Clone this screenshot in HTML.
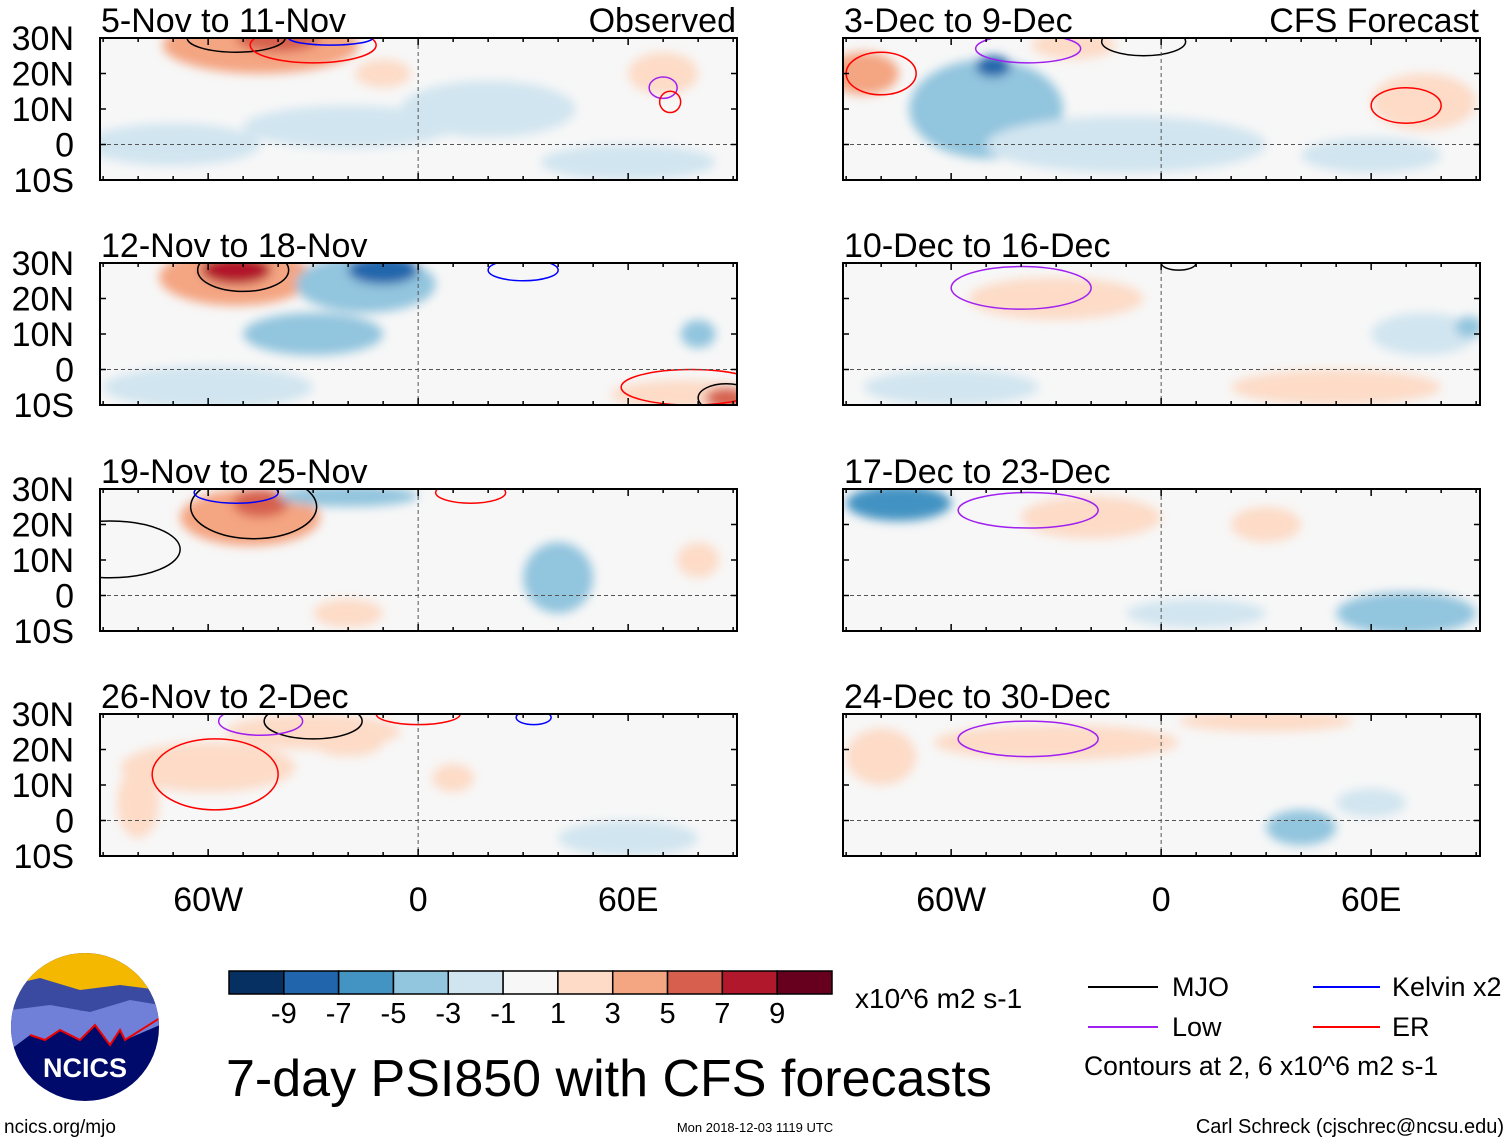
<!DOCTYPE html>
<html><head><meta charset="utf-8"><style>
html,body{margin:0;padding:0;background:#fff;width:1510px;height:1142px;overflow:hidden}
svg text{font-family:"Liberation Sans",sans-serif;fill:#000}
</style></head><body>
<svg id="fig" width="1510" height="1142" viewBox="0 0 1510 1142">
<defs><filter id="blur" x="-30%" y="-30%" width="160%" height="160%"><feGaussianBlur stdDeviation="5"/></filter>
<clipPath id="circ"><circle cx="85" cy="1027" r="74"/></clipPath></defs>
<g id="panels"></g>
<g id="cbar"></g>
<g clip-path="url(#circ)">
<rect x="10" y="952" width="150" height="150" fill="#000a6b"/>
<rect x="10" y="952" width="150" height="45" fill="#f5b800"/>
<path d="M10,985 L40,978 L80,990 L120,985 L160,990 L160,1015 L120,1020 L80,1010 L40,1020 L10,1015Z" fill="#3a4aa0"/>
<path d="M10,1010 L50,1005 L90,1012 L130,1000 L160,1005 L160,1025 L125,1040 L120,1030 L110,1045 L95,1025 L80,1040 L60,1030 L45,1040 L30,1035 L10,1050Z" fill="#7080d8"/>
<path d="M30,1035 L45,1040 L60,1030 L80,1040 L95,1025 L110,1045 L120,1030 L125,1040 L160,1018" fill="none" stroke="#e00" stroke-width="2"/>
<text x="85" y="1077" text-anchor="middle" font-size="27" font-weight="bold" style="fill:#fff">NCICS</text>
</g>
<text x="4" y="1133" font-size="19">ncics.org/mjo</text>
<text x="226" y="1096" font-size="52">7-day PSI850 with CFS forecasts</text>
<text x="855" y="1008" font-size="28">x10^6 m2 s-1</text>
<text x="755" y="1132" font-size="13" text-anchor="middle">Mon 2018-12-03 1119 UTC</text>
<text x="1504" y="1133" font-size="20" text-anchor="end">Carl Schreck (cjschrec@ncsu.edu)</text>
<g>
<line x1="1088" y1="987" x2="1158" y2="987" stroke="#000" stroke-width="2"/><text x="1172" y="996" font-size="27">MJO</text>
<line x1="1088" y1="1027" x2="1158" y2="1027" stroke="#a020f0" stroke-width="2"/><text x="1172" y="1036" font-size="27">Low</text>
<line x1="1313" y1="987" x2="1380" y2="987" stroke="#0000ff" stroke-width="2"/><text x="1392" y="996" font-size="27">Kelvin x2</text>
<line x1="1313" y1="1027" x2="1380" y2="1027" stroke="#ff0000" stroke-width="2"/><text x="1392" y="1036" font-size="27">ER</text>
<text x="1084" y="1075" font-size="26.5">Contours at 2, 6 x10^6 m2 s-1</text>
</g>
</svg>
<script>
const levels=[-9,-7,-5,-3,-1,1,3,5,7,9];
const palette=["#053061","#2166ac","#4393c3","#92c5de","#d1e5f0","#f7f7f7","#fddbc7","#f4a582","#d6604d","#b2182b","#67001f"];
const panelTitles=["5-Nov to 11-Nov","12-Nov to 18-Nov","19-Nov to 25-Nov","26-Nov to 2-Dec","3-Dec to 9-Dec","10-Dec to 16-Dec","17-Dec to 23-Dec","24-Dec to 30-Dec"];
const latTicks=[30,20,10,0,-10];
const latLabels=["30N","20N","10N","0","10S"];
const lonTicks=[-60,0,60];
const lonLabels=["60W","0","60E"];
// blobs: [lon, lat, rxDeg, ryDeg, value]
const blobs=[
[[-45,28,28,8,4],[-40,30,12,4,6],[-70,0,25,6,-2],[-20,5,30,6,-2],[60,-5,25,5,-2],[70,20,10,6,3],[-10,20,8,4,2],[20,10,25,8,-1.5]],
[[-52,26,22,8,5],[-52,28,10,4,8],[-15,24,20,8,-4],[-10,28,10,4,-7],[-60,-5,30,6,-2],[-30,10,20,6,-3],[75,-7,20,4,3],[88,-8,6,3,6],[80,10,5,4,-3]],
[[-48,22,20,8,4],[-45,26,8,4,7],[-20,28,20,3,-3],[40,5,10,10,-3],[-20,-5,10,4,2],[80,10,6,5,2]],
[[-60,15,25,7,3],[-30,25,25,5,3],[-80,5,6,10,3],[60,-5,20,5,-2],[-20,22,10,4,2],[10,12,6,4,2]],
[[-50,10,22,14,-4],[-48,22,5,3,-7],[-10,0,40,8,-2],[75,12,15,8,2],[-25,28,12,4,3],[-85,20,10,6,4],[60,-3,20,5,-2]],
[[-30,20,25,6,1.5],[50,-5,30,5,2],[-60,-5,25,5,-2],[75,10,15,6,-2],[88,12,4,3,-4]],
[[-75,26,15,5,-5],[-20,22,20,6,2],[70,-5,20,6,-3],[10,-5,20,4,-2],[30,20,10,5,2]],
[[-30,22,35,5,2],[30,28,25,3,2],[40,-2,10,5,-3],[60,5,10,4,-2],[-80,18,10,8,2]]];
// contours: [lon, lat, rxDeg, ryDeg, color]
const contours=[
[[-52,30,14,4,"#000"],[-30,28,18,5,"#f00"],[-25,30,12,2,"#00f"],[70,16,4,3,"#a020f0"],[72,12,3,3,"#f00"]],
[[-50,28,13,6,"#000"],[30,28,10,3,"#00f"],[78,-5,20,5,"#f00"],[88,-8,8,4,"#000"]],
[[-88,13,20,8,"#000"],[-47,25,18,9,"#000"],[-52,29,12,3,"#00f"],[15,29,10,3,"#f00"]],
[[-58,13,18,10,"#f00"],[-30,28,14,5,"#000"],[-45,28,12,4,"#a020f0"],[0,30,12,3,"#f00"],[33,29,5,2,"#00f"]],
[[-80,20,10,6,"#f00"],[-38,27,15,4,"#a020f0"],[-5,29,12,4,"#000"],[70,11,10,5,"#f00"]],
[[-40,23,20,6,"#a020f0"],[5,30,5,2,"#000"]],
[[-38,24,20,5,"#a020f0"]],
[[-38,23,20,5,"#a020f0"]]];
const NS="http://www.w3.org/2000/svg";
function colorFor(v){let i=0;while(i<levels.length&&v>levels[i])i++;return palette[i];}
const pans=document.getElementById('panels');
const origins=[[100,38],[100,263],[100,489],[100,714],[843,38],[843,263],[843,489],[843,714]];
const W=637,H=142;
function mk(tag,attrs,parent){const e=document.createElementNS(NS,tag);for(const k in attrs)e.setAttribute(k,attrs[k]);parent.appendChild(e);return e;}
origins.forEach((o,p)=>{
 const [x0,y0]=o;
 const xS=lon=>x0+(lon+90.9)*3.5;
 const yS=lat=>y0+(30-lat)*3.55;
 const g=mk('g',{},pans);
 
 
 const cid='cp'+p;
 const cp=mk('clipPath',{id:cid},g);mk('rect',{x:x0,y:y0,width:W,height:H},cp);
 mk('rect',{x:x0,y:y0,width:W,height:H,fill:'#f7f7f7'},g);
 const bg=mk('g',{'clip-path':'url(#'+cid+')'},g);
 const fg=mk('g',{filter:'url(#blur)'},bg);
 blobs[p].forEach(b=>{
  const e=mk('ellipse',{cx:xS(b[0]),cy:yS(b[1]),rx:b[2]*3.5,ry:b[3]*3.55,fill:colorFor(b[4])},fg);
  
  
 });
 contours[p].forEach(c=>{
  const e=mk('ellipse',{cx:xS(c[0]),cy:yS(c[1]),rx:c[2]*3.5,ry:c[3]*3.55,fill:'none',stroke:c[4],'stroke-width':1.5},bg);
  
  
 });
 mk('line',{x1:x0,x2:x0+W,y1:yS(0),y2:yS(0),stroke:'#555','stroke-dasharray':'4,3','stroke-width':1},g);
 mk('line',{x1:xS(0),x2:xS(0),y1:y0,y2:y0+H,stroke:'#555','stroke-dasharray':'4,3','stroke-width':1},g);
 mk('rect',{x:x0,y:y0,width:W,height:H,fill:'none',stroke:'#000','stroke-width':2},g);
 for(let lon=-90;lon<=90;lon+=10){const x=xS(lon),l=(lon%60===0)?7:4;
  mk('line',{x1:x,x2:x,y1:y0,y2:y0+l,stroke:'#000','stroke-width':1.5},g);
  mk('line',{x1:x,x2:x,y1:y0+H,y2:y0+H-l,stroke:'#000','stroke-width':1.5},g);}
 latTicks.forEach(lat=>{const y=yS(lat);
  mk('line',{x1:x0,x2:x0+6,y1:y,y2:y,stroke:'#000','stroke-width':1.5},g);
  mk('line',{x1:x0+W,x2:x0+W-6,y1:y,y2:y,stroke:'#000','stroke-width':1.5},g);});
 const t=mk('text',{x:x0+1,y:y0-6,'font-size':34},g);t.textContent=panelTitles[p];
 
 
 if(p===0||p===4){const r=mk('text',{x:x0+W-1,y:y0-6,'font-size':34,'text-anchor':'end'},g);r.textContent=p===0?'Observed':'CFS Forecast';
  
  }
 if(p<4){latTicks.forEach((lat,i)=>{const l=mk('text',{x:74,y:yS(lat)+12,'font-size':34,'text-anchor':'end'},g);l.textContent=latLabels[i];
  
  });}
 if(p===3||p===7){lonTicks.forEach((lon,i)=>{const l=mk('text',{x:xS(lon),y:911,'font-size':34,'text-anchor':'middle'},g);l.textContent=lonLabels[i];
  
  });}
});
const cb=document.getElementById('cbar');


const bx=229,bw=603/palette.length;
palette.forEach((c,i)=>{const r=mk('rect',{x:bx+i*bw,y:971,width:bw,height:23,fill:c,stroke:'#000','stroke-width':1.5},cb);
 
 });
levels.forEach((v,i)=>{const t=mk('text',{x:bx+(i+1)*bw,y:1023,'font-size':29,'text-anchor':'middle'},cb);t.textContent=v;
 
 });
</script>
</body></html>
